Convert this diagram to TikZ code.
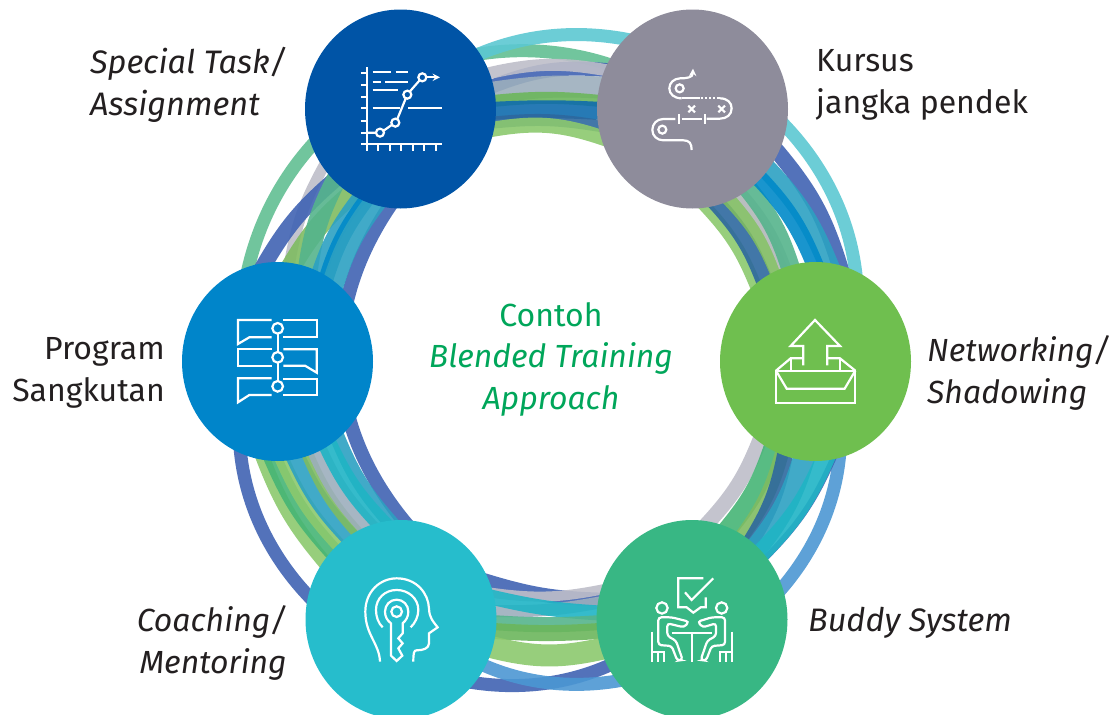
\documentclass[tikz,border=0pt]{standalone}
\usepackage{fontspec}
\setmainfont{Fira Sans}
\usetikzlibrary{calc,backgrounds,shapes.geometric}
\definecolor{ink}{HTML}{231F20}
\definecolor{titlegreen}{HTML}{00A65A}
\definecolor{navy}{HTML}{0054A6}
\definecolor{slate}{HTML}{8E8C9B}
\definecolor{ocean}{HTML}{0085CA}
\definecolor{leaf}{HTML}{6FBF4F}
\definecolor{aqua}{HTML}{26BDCC}
\definecolor{jade}{HTML}{38B784}
\definecolor{rteal}{HTML}{5CC8D2}
\definecolor{rmint}{HTML}{62BF92}
\definecolor{rgrey}{HTML}{BEBEC9}
\definecolor{rblue}{HTML}{4063B3}
\definecolor{rmist}{HTML}{9CAEBC}
\definecolor{rgreen}{HTML}{6CB65C}
\definecolor{rdeep}{HTML}{0F6CAD}
\definecolor{rsteel}{HTML}{2D689E}
\definecolor{rlime}{HTML}{8CC96E}
\definecolor{rsky}{HTML}{2CA1C2}
\definecolor{rbright}{HTML}{0089C9}
\definecolor{rsea}{HTML}{55B48C}
\definecolor{rmoss}{HTML}{7FBB62}
\definecolor{rcyan}{HTML}{1FB4C5}
\definecolor{rsoft}{HTML}{4C97D3}
\definecolor{rfern}{HTML}{46B575}
\tikzset{
  hub/.style={ellipse,minimum width=191pt,minimum height=199pt,inner sep=0pt},
  ribbon/.style={opacity=.9,shorten <=-10pt,shorten >=-10pt},
  icon/.style={draw=white,line width=2.2pt},
  label/.style={text=ink,font=\fontsize{32}{41.5}\selectfont,inner sep=0pt},
  zoomed/.style={x=.3333pt,y=-.3333pt}
}
\begin{document}
\begin{tikzpicture}[x=1pt,y=1pt]
\useasboundingbox (0,0) rectangle (1112,-715);
% circles
\node[hub,fill=navy] (special) at (400.5,-109) {};
\node[hub,fill=slate] (kursus) at (692.5,-109) {};
\node[hub,fill=ocean] (program) at (277.5,-361.5) {};
\node[hub,fill=leaf] (network) at (815.5,-361.5) {};
\node[hub,fill=aqua] (mentor) at (401,-619.5) {};
\node[hub,fill=jade] (buddy) at (692,-619.5) {};
% texts
\node[label,anchor=west,align=left,font=\fontsize{32.5}{41.5}\selectfont\itshape] (tspecial) at (90,-85) {Special Task/\\Assignment};
\node[label,anchor=west,align=left] (tkursus) at (816,-85) {Kursus\\jangka pendek};
\node[label,anchor=east,align=right] (tprogram) at (165,-373) {Program\hspace{8pt}\\Sangkutan};
\node[label,anchor=west,align=left,font=\fontsize{32}{41.5}\selectfont\itshape] (tnetwork) at (927,-373) {Networking/\\Shadowing};
\node[label,anchor=west,font=\fontsize{32.5}{41.5}\selectfont\itshape] (tbuddy) at (808,-623) {Buddy System};
\node[label,anchor=east,align=right,font=\fontsize{32}{41.5}\selectfont\itshape] (tmentor) at (287,-643) {Coaching/\hspace{5pt}\\Mentoring};
\node[label,text=titlegreen,align=center] (title) at (551,-359) {Contoh\\\textit{Blended Training}\\\textit{Approach}};
% ribbons
\begin{pgfonlayer}{background}
% long ones
\draw[ribbon,rblue,line width=13pt] (buddy.209) to[bend left=56] (program.-112);
\draw[ribbon,rsoft,line width=13pt] (network.-76) to[bend left=56] (mentor.-29);
\draw[ribbon,rmint,line width=13pt] (program.107) to[bend left=49] (kursus.152);
\draw[ribbon,rteal,line width=13pt] (special.35) to[bend left=55] (network.66);
\draw[ribbon,rblue,line width=14pt] (mentor.89) to[bend left=38] (special.-97);
% top
\foreach \col/\wid/\a/\b/\bnd in {rblue/14/14/156/14,rgrey/12/22/156/12,rmist/22/10/167/6,rgreen/12/5/175/6,rdeep/18/-1/181/3,rsteel/12/-8/190/8,rlime/15/-12/197/15}
  \draw[ribbon,\col,line width=\wid pt] (special.\a) to[bend left=\bnd] (kursus.\b);
% right
\foreach \col/\wid/\a/\b/\bnd in {rlime/12/-82/128/11,rsteel/17/-75/122/11,rmoss/19/-66/112/11,rgrey/12/-60/108/11,rsea/19/-55/105/11,rblue/16/-27/76/12,rsky/20/-39/83/11,rbright/17/-46/91/11}
  \draw[ribbon,\col,line width=\wid pt] (kursus.\a) to[bend left=\bnd] (network.\b);
% lower right
\foreach \col/\wid/\a/\b/\bnd in {rgrey/15/-125/80/11,rfern/19/-116/68/11,rmoss/14/-110/59/11,rblue/6/-80/40/11,rsteel/16/-108/53/11,rsky/22/-97/48/11,rcyan/19/-85/44/11}
  \draw[ribbon,\col,line width=\wid pt] (network.\a) to[bend left=\bnd] (buddy.\b);
% bottom
\foreach \col/\wid/\a/\b/\bnd in {rblue/14/168/23/8,rgrey/10/162/16/10,rmist/12/170/5/6,rcyan/15/176/13/5,rsea/15/182/-2/4,rgreen/16/187/-7/4,rlime/22/198/-17/14}
  \draw[ribbon,\col,line width=\wid pt] (buddy.\a) to[bend left=\bnd] (mentor.\b);
% lower left
\foreach \col/\wid/\a/\b/\bnd in {rlime/14/143/262/10,rfern/18/135/268/10,rlime/14/130/273/10,rsky/19/122/281/10,rmoss/12/117/288/10,rmist/20/110/294/10,rsky/15/97/308/10,rcyan/19/102/301/10}
  \draw[ribbon,\col,line width=\wid pt] (mentor.\a) to[bend left=\bnd] (program.\b);
% upper left
\foreach \col/\wid/\a/\b/\bnd in {rgrey/11/83/217/10,rblue/16/97/227/10,rmoss/20/81/240/10,rsea/20/72/228/10,rsky/15/65/245/10,rbright/15/60/249/10,rsky/22/55/254/10}
  \draw[ribbon,\col,line width=\wid pt] (program.\a) to[bend left=\bnd] (special.\b);
\end{pgfonlayer}
% icon special
\begin{scope}[shift={(300,0)},zoomed]
\draw[icon] (201,202) -- (201,452);
\draw[icon] (183,433) -- (425,433);
\foreach \y in {218,255,290,325,362,398} \draw[icon] (183,\y) -- (201,\y);
\foreach \x in {235,269,303,338,372,407} \draw[icon] (\x,433) -- (\x,452);
\draw[icon] (218,217) -- (272,217) (287,217) -- (323,217);
\draw[icon] (218,245) -- (242,245) (255,245) -- (323,245);
\draw[icon] (218,270) -- (295,270);
\draw[icon] (218,325) -- (300,325) (325,325) -- (425,325);
\draw[icon] (201,398) -- (228,398) (251,392) -- (275,375) (292,357) -- (317,296) (330,274) -- (358,242);
\draw[icon,-stealth] (380,232) -- (420,232);
\foreach \x/\y in {240/398,286/368,322/284,367/232} \draw[icon] (\x,\y) circle (12);
\end{scope}
% icon kursus
\begin{scope}[shift={(600,-20)},zoomed]
\draw[icon,-stealth] (245,235) .. controls (222,235) and (208,222) .. (208,205) .. controls (208,188) and (222,176) .. (240,175) .. controls (262,175) and (278,172) .. (279,146);
\draw[icon,dotted] (302,235) -- (360,235);
\draw[icon] (245,235) -- (300,235);
\draw[icon] (360,235) .. controls (382,235) and (395,248) .. (395,265) .. controls (395,284) and (380,296) .. (360,296) -- (320,296);
\draw[icon] (316,283) -- (316,313) (236,283) -- (236,313) (245,297) -- (305,297);
\draw[icon] (226,297) -- (190,297) .. controls (170,297) and (157,312) .. (157,330) .. controls (157,348) and (172,361) .. (190,361) -- (250,361) .. controls (268,361) and (275,370) .. (275,390);
\draw[icon] (239,205) circle (12) (187,329) circle (12);
\draw[icon] (265,257) -- (285,277) (285,257) -- (265,277) (355,257) -- (375,277) (375,257) -- (355,277);
\end{scope}
% icon program
\begin{scope}[shift={(170,-220)},zoomed]
\draw[icon] (305,300) -- (204,300) -- (204,372) -- (238,352) -- (305,352);
\draw[icon] (340,300) -- (442,300) -- (442,350) -- (340,350);
\draw[icon] (305,388) -- (204,388) -- (204,437) -- (305,437);
\draw[icon] (340,388) -- (440,388) -- (440,458) -- (405,437) -- (340,437);
\draw[icon] (305,475) -- (204,475) -- (204,547) -- (238,525) -- (305,525);
\draw[icon] (340,478) -- (442,478) -- (442,526) -- (340,526);
\foreach \y in {325,412,499} \draw[icon] (323,\y) circle (16);
\draw[icon] (323,341) -- (323,396) (323,428) -- (323,483);
\end{scope}
% icon network
\begin{scope}[shift={(700,-260)},zoomed]
\draw[icon] (310,316) -- (310,258) -- (272,258) -- (345,180) -- (420,258) -- (382,258) -- (382,316);
\draw[icon] (228,332) -- (466,332) -- (466,428) -- (228,428) -- cycle;
\draw[icon] (228,332) -- (260,386) -- (434,386) -- (466,332);
\draw[icon] (228,332) -- (272,295) -- (310,295) (382,295) -- (420,295) -- (466,332);
\draw[icon] (272,295) -- (272,332) (420,295) -- (420,332);
\end{scope}
% icon mentor
\begin{scope}[shift={(290,-510)},zoomed]
\draw[icon] (270,455) .. controls (268,400) and (226,375) .. (226,305) .. controls (226,245) and (270,205) .. (320,205) .. controls (380,205) and (415,250) .. (417,295) .. controls (418,325) and (430,335) .. (443,352) -- (417,370) -- (417,400) .. controls (417,415) and (400,421) .. (380,421) .. controls (372,421) and (370,428) .. (370,455);
\draw[icon] (278,352) .. controls (265,340) and (258,320) .. (258,300) .. controls (258,265) and (285,240) .. (320,240) .. controls (355,240) and (385,265) .. (385,300) .. controls (385,320) and (375,340) .. (362,352);
\draw[icon] (303,340) .. controls (292,332) and (285,320) .. (285,305) .. controls (285,285) and (300,269) .. (320,269) .. controls (340,269) and (355,285) .. (355,305) .. controls (355,320) and (348,332) .. (338,340) -- (338,370) -- (325,385) -- (338,400) -- (325,415) -- (337,437) -- (320,453) -- (303,437) -- cycle;
\draw[icon] (320,305) circle (16);
\end{scope}
% icon buddy
\begin{scope}[shift={(590,-510)},zoomed]
\draw[icon] (340,205) -- (265,205) -- (265,292) -- (290,292) -- (310,308) -- (332,292) -- (347,292) -- (347,262);
\draw[icon] (285,247) -- (305,270) -- (370,205);
\draw[icon] (216,294) circle (17) (395,294) circle (17);
\draw[icon] (245,370) -- (365,370) (305,370) -- (305,455);
\draw[icon,rounded corners=3pt] (205,405) -- (205,322) -- (245,322) -- (297,335) -- (282,352) -- (232,340) -- (232,378) -- (258,392) -- (278,450) -- (262,452) -- (245,408) -- cycle;
\draw[icon,rounded corners=3pt] (405,405) -- (405,322) -- (365,322) -- (323,335) -- (338,352) -- (378,340) -- (378,378) -- (352,392) -- (332,450) -- (348,452) -- (365,408) -- cycle;
\draw[icon] (187,365) -- (187,455) (187,425) -- (222,425) -- (222,455) (205,425) -- (205,455);
\draw[icon] (425,365) -- (425,455) (425,425) -- (390,425) -- (390,455) (407,425) -- (407,455);
\end{scope}
\end{tikzpicture}
\end{document}
